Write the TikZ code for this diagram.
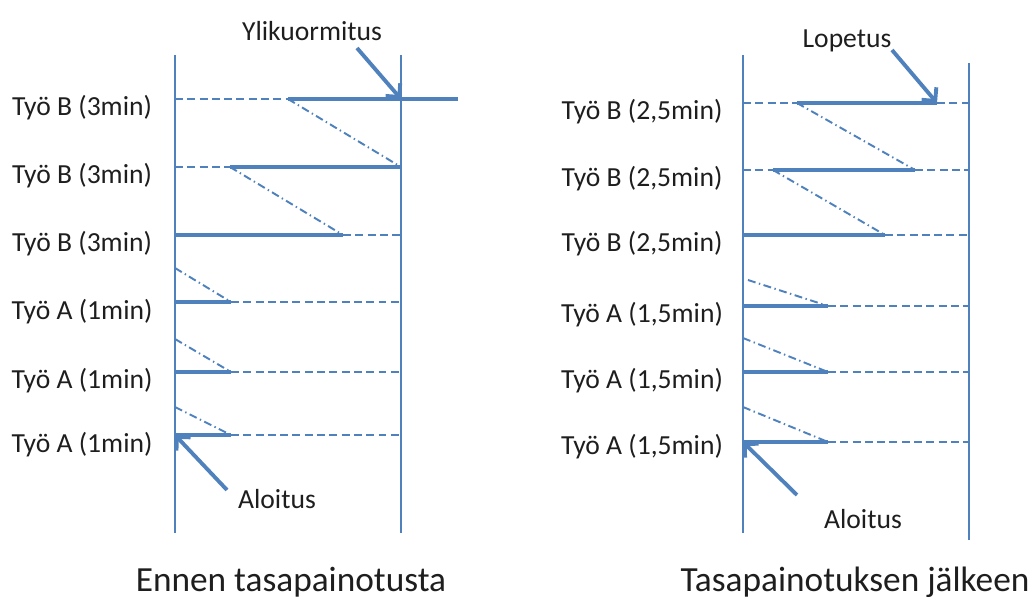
\documentclass[tikz,border=0pt]{standalone}
\usepackage{fontspec}
\setmainfont{Carlito}
\usepackage{tikz}
\usetikzlibrary{arrows.meta}
\usetikzlibrary{positioning}
\definecolor{lineblue}{RGB}{79,129,189}
\definecolor{textdark}{RGB}{30,30,30}
\tikzstyle{point} = [coordinate]
\tikzstyle{axis} = [draw=lineblue, line width=1.4pt]
\tikzstyle{work} = [draw=lineblue, line width=2.2pt]
\tikzstyle{idle} = [draw=lineblue, line width=1.1pt, dash pattern=on 4.5pt off 2.5pt]
\tikzstyle{move} = [draw=lineblue, line width=1.1pt, dash pattern=on 4.5pt off 2pt on 0.8pt off 2pt]
\tikzstyle{pointer} = [draw=lineblue, line width=2.2pt, -{Straight Barb[length=5.5pt,width=11pt]}]
\tikzstyle{lbl} = [text=textdark, font=\fontsize{15.7}{18}\selectfont, inner sep=0pt]
\tikzstyle{title} = [text=textdark, font=\fontsize{20.1}{24}\selectfont, inner sep=0pt]

\begin{document}
\begin{tikzpicture}[x=0.02cm, y=-0.02cm]
  \useasboundingbox (0,0) rectangle (1036,601);

  % --- before balancing ---
  \node [point, name=l-top] at (175,55) {};
  \node [point, name=l-bot] at (175,533) {};
  \node [point, name=r-top] at (401,55) {};
  \node [point, name=r-bot] at (401,533) {};
  \draw [axis] (l-top) -- (l-bot);
  \draw [axis] (r-top) -- (r-bot);

  \node [point, name=b1-0] at (175,99) {};
  \node [point, name=b1-1] at (288,99) {};
  \node [point, name=b1-2] at (401,99) {};
  \node [point, name=b1-3] at (458,99) {};
  \node [point, name=b2-0] at (175,167) {};
  \node [point, name=b2-1] at (230,167) {};
  \node [point, name=b2-2] at (401,167) {};
  \node [point, name=b3-0] at (175,235) {};
  \node [point, name=b3-1] at (343,235) {};
  \node [point, name=b3-2] at (401,235) {};
  \node [point, name=a1-0] at (175,302) {};
  \node [point, name=a1-1] at (231,302) {};
  \node [point, name=a1-2] at (401,302) {};
  \node [point, name=a2-0] at (175,372) {};
  \node [point, name=a2-1] at (231,372) {};
  \node [point, name=a2-2] at (401,372) {};
  \node [point, name=a3-0] at (175,435) {};
  \node [point, name=a3-1] at (231,435) {};
  \node [point, name=a3-2] at (401,435) {};

  \draw [idle] (b1-0) -- (b1-1);
  \draw [work] (b1-1) -- (b1-3);
  \draw [idle] (b2-0) -- (b2-1);
  \draw [work] (b2-1) -- (b2-2);
  \draw [work] (b3-0) -- (b3-1);
  \draw [idle] (b3-1) -- (b3-2);
  \draw [work] (a1-0) -- (a1-1);
  \draw [idle] (a1-1) -- (a1-2);
  \draw [work] (a2-0) -- (a2-1);
  \draw [idle] (a2-1) -- (a2-2);
  \draw [work] (a3-0) -- (a3-1);
  \draw [idle] (a3-1) -- (a3-2);

  \node [point, name=a1-in] at (175,268) {};
  \node [point, name=a2-in] at (175,339) {};
  \node [point, name=a3-in] at (175,407) {};
  \draw [move] (b1-1) -- (b2-2);
  \draw [move] (b2-1) -- (b3-1);
  \draw [move] (a1-in) -- (a1-1);
  \draw [move] (a2-in) -- (a2-1);
  \draw [move] (a3-in) -- (a3-1);

  \node [lbl] (lb1) at (82,108) {Työ B (3min)};
  \node [lbl] (lb2) at (82,176) {Työ B (3min)};
  \node [lbl] (lb3) at (82,244) {Työ B (3min)};
  \node [lbl] (la1) at (82,312) {Työ A (1min)};
  \node [lbl] (la2) at (82,381) {Työ A (1min)};
  \node [lbl] (la3) at (82,445) {Työ A (1min)};

  \node [lbl] (over) at (312,31) {Ylikuormitus};
  \node [point, name=over-tail] at (357,48) {};
  \draw [pointer] (over-tail) -- (b1-2);
  \node [lbl] (start) at (277,499) {Aloitus};
  \node [point, name=start-tail] at (227,490) {};
  \draw [pointer] (start-tail) -- (a3-0);

  \node [title] (before) at (291,582) {Ennen tasapainotusta};

  % --- after balancing ---
  \node [point, name=L-top] at (743,55) {};
  \node [point, name=L-bot] at (743,533) {};
  \node [point, name=R-top] at (969,63) {};
  \node [point, name=R-bot] at (969,540) {};
  \draw [axis] (L-top) -- (L-bot);
  \draw [axis] (R-top) -- (R-bot);

  \node [point, name=B1-0] at (743,103) {};
  \node [point, name=B1-1] at (797,103) {};
  \node [point, name=B1-2] at (937,103) {};
  \node [point, name=B1-3] at (969,103) {};
  \node [point, name=B2-0] at (743,170) {};
  \node [point, name=B2-1] at (773,170) {};
  \node [point, name=B2-2] at (915,170) {};
  \node [point, name=B2-3] at (969,170) {};
  \node [point, name=B3-0] at (743,235) {};
  \node [point, name=B3-1] at (885,235) {};
  \node [point, name=B3-2] at (969,235) {};
  \node [point, name=A1-0] at (743,306) {};
  \node [point, name=A1-1] at (828,306) {};
  \node [point, name=A1-2] at (969,306) {};
  \node [point, name=A2-0] at (743,372) {};
  \node [point, name=A2-1] at (828,372) {};
  \node [point, name=A2-2] at (969,372) {};
  \node [point, name=A3-0] at (743,442) {};
  \node [point, name=A3-1] at (828,442) {};
  \node [point, name=A3-2] at (969,442) {};

  \draw [idle] (B1-0) -- (B1-1);
  \draw [work] (B1-1) -- (B1-2);
  \draw [idle] (B1-2) -- (B1-3);
  \draw [idle] (B2-0) -- (B2-1);
  \draw [work] (B2-1) -- (B2-2);
  \draw [idle] (B2-2) -- (B2-3);
  \draw [work] (B3-0) -- (B3-1);
  \draw [idle] (B3-1) -- (B3-2);
  \draw [work] (A1-0) -- (A1-1);
  \draw [idle] (A1-1) -- (A1-2);
  \draw [work] (A2-0) -- (A2-1);
  \draw [idle] (A2-1) -- (A2-2);
  \draw [work] (A3-0) -- (A3-1);
  \draw [idle] (A3-1) -- (A3-2);

  \node [point, name=A1-in] at (748,280) {};
  \node [point, name=A2-in] at (743,338) {};
  \node [point, name=A3-in] at (743,407) {};
  \draw [move] (B1-1) -- (B2-2);
  \draw [move] (B2-1) -- (B3-1);
  \draw [move] (A1-in) -- (A1-1);
  \draw [move] (A2-in) -- (A2-1);
  \draw [move] (A3-in) -- (A3-1);

  \node [lbl] (LB1) at (642,112) {Työ B (2,5min)};
  \node [lbl] (LB2) at (642,179) {Työ B (2,5min)};
  \node [lbl] (LB3) at (642,244) {Työ B (2,5min)};
  \node [lbl] (LA1) at (642,315) {Työ A (1,5min)};
  \node [lbl] (LA2) at (642,381) {Työ A (1,5min)};
  \node [lbl] (LA3) at (642,447) {Työ A (1,5min)};

  \node [lbl] (end) at (847,41) {Lopetus};
  \node [point, name=end-tail] at (892,50) {};
  \draw [pointer] (end-tail) -- (B1-2);
  \node [lbl] (Start) at (863,519) {Aloitus};
  \node [point, name=Start-tail] at (797,495) {};
  \draw [pointer] (Start-tail) -- (A3-0);

  \node [title] (after) at (855,582) {Tasapainotuksen jälkeen};
\end{tikzpicture}
\end{document}
